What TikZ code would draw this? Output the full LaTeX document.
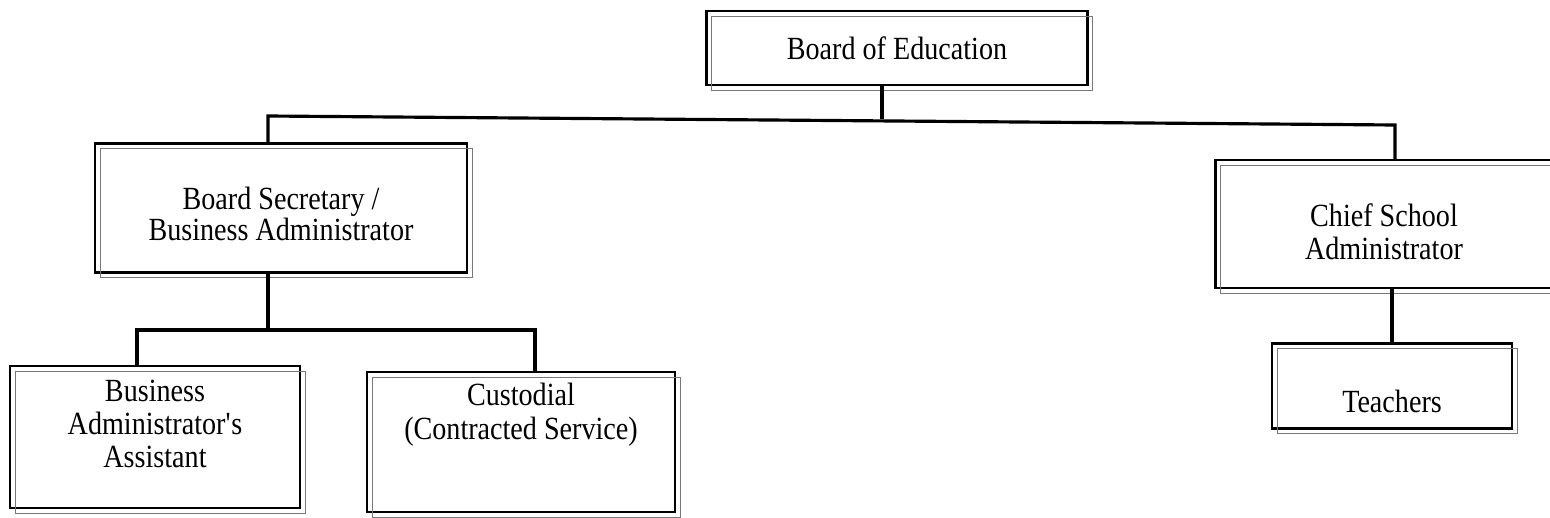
\documentclass[tikz,border=0pt]{standalone}
\usepackage{fontspec}
\setmainfont{Liberation Serif}[FakeStretch=0.87]
\usetikzlibrary{calc}
\definecolor{scan}{RGB}{120, 120, 120}
% struts to move text up or down inside a box
\newcommand{\padtop}[1]{\rule{0pt}{#1}}
\newcommand{\padbot}[1]{\rule[-#1]{0pt}{#1}}

\begin{document}
\begin{tikzpicture}[x=0.02cm, y=-0.02cm,
  box/.style={draw, line width=1.3pt, inner sep=0pt, align=center,
    font=\fontsize{18.4}{19}\selectfont,
    postaction={draw=scan, line width=0.5pt,
      transform canvas={xshift=0.1cm, yshift=-0.1cm}}},
  link/.style={line width=1.8pt}]

  \useasboundingbox (0, 0) rectangle (1550, 517);

  % boxes
  \node[box, minimum width=7.62cm, minimum height=1.48cm] (boe) at (897, 48)
    {Board of Education};
  \node[box, font=\fontsize{18.4}{16}\selectfont,
    minimum width=7.44cm, minimum height=2.58cm] (sec) at (281, 208)
    {\padtop{19.5pt}Board Secretary /\\Business Administrator};
  \node[box, minimum width=6.74cm, minimum height=2.56cm] (chief) at (1384, 224)
    {\padtop{21.5pt}Chief School\\Administrator};
  \node[box, minimum width=5.8cm, minimum height=2.84cm] (asst) at (155, 437)
    {Business\\Administrator\textquotesingle s\\Assistant\padbot{15pt}};
  \node[box, minimum width=6.16cm, minimum height=2.8cm] (cust) at (521, 442)
    {Custodial\\(Contracted Service)\padbot{35pt}};
  \node[box, minimum width=4.8cm, minimum height=1.7cm] (teach) at (1392, 386)
    {\padtop{30.5pt}Teachers};

  % junctions
  \coordinate (top) at (882, 119);
  \coordinate (jl) at (268, 116);
  \coordinate (jr) at (1395, 125);
  \coordinate (mid) at (268, 330);
  \coordinate (ja) at (137, 330);
  \coordinate (jc) at (535, 330);

  % connectors
  \draw[link] (top |- boe.south) -- (top);
  \draw[link] (sec.north -| jl) -- (jl) -- (jr) -- (chief.north -| jr);
  \draw[link] (sec.south -| mid) -- (mid);
  \draw[link] (asst.north -| ja) -- (ja) -- (jc) -- (cust.north -| jc);
  \draw[link] (chief.south -| teach.north) -- (teach.north);

\end{tikzpicture}
\end{document}
